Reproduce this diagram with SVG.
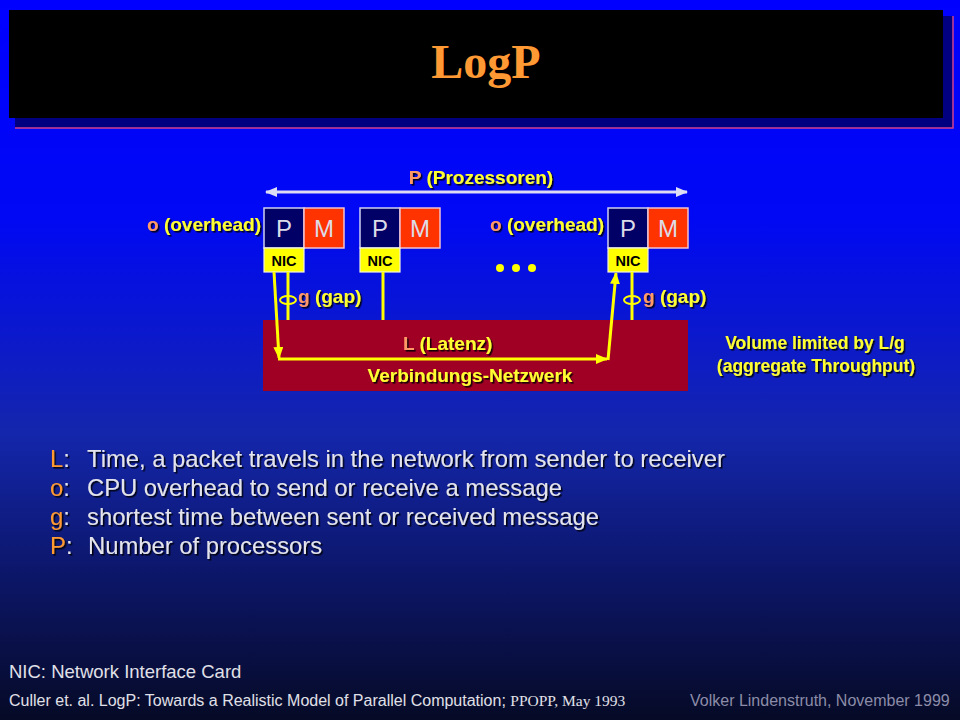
<svg xmlns="http://www.w3.org/2000/svg" width="960" height="720" viewBox="0 0 960 720">
<defs>
<linearGradient id="bg" x1="0" y1="0" x2="0" y2="1">
<stop offset="0" stop-color="#0000ff"/>
<stop offset="0.3" stop-color="#0008f4"/>
<stop offset="0.6" stop-color="#1426ac"/>
<stop offset="0.8" stop-color="#0c1668"/>
<stop offset="1" stop-color="#060a26"/>
</linearGradient>
<filter id="sh" x="-10%" y="-30%" width="120%" height="160%">
<feDropShadow dx="1.6" dy="1.6" stdDeviation="0.5" flood-color="#000000" flood-opacity="0.85"/>
</filter>
<marker id="ya" markerUnits="userSpaceOnUse" markerWidth="12" markerHeight="10" refX="11" refY="5" orient="auto">
<path d="M0,0 L12,5 L0,10 Z" fill="#ffff00"/>
</marker>
<marker id="wa" markerUnits="userSpaceOnUse" markerWidth="12" markerHeight="10" refX="11" refY="5" orient="auto-start-reverse">
<path d="M0,0 L12,5 L0,10 Z" fill="#dcdcf4"/>
</marker>
</defs>
<style>
.lbl{font-family:"Liberation Sans",Arial,sans-serif;font-weight:bold;font-size:19px;fill:#ffff33}
.vol{font-size:17.5px}
.pre{fill:#ff9966}
.pbox{fill:#000066;stroke:#d0d0f0;stroke-width:1.5}
.mbox{fill:#ff3300;stroke:#f0c0d0;stroke-width:1.5}
.nbox{fill:#ffff00;stroke:#f0f0e0;stroke-width:1.2}
.big{font-family:"Liberation Sans",Arial,sans-serif;font-size:24px;fill:#dcdce8;text-anchor:middle}
.nic{font-family:"Liberation Sans",Arial,sans-serif;font-weight:bold;font-size:14.5px;fill:#000000;text-anchor:middle}
.yl{stroke:#ffff00;stroke-width:3;fill:none}
.list{font-family:"Liberation Sans",Arial,sans-serif;font-size:23.8px;fill:#e4e4ec}
.or{fill:#ff9933}
.foot{font-family:"Liberation Sans",Arial,sans-serif;fill:#e0e0e8}
</style>
<rect x="0" y="0" width="960" height="720" fill="url(#bg)"/>
<g id="title">
<rect x="15" y="16" width="938" height="112" fill="#000080"/>
<path d="M15,128 L953,128 L953,16" fill="none" stroke="#d04090" stroke-width="1.5"/>
<rect x="9" y="10" width="934" height="108" fill="#000000"/>
<text x="486" y="78" text-anchor="middle" font-family="Liberation Serif,'Times New Roman',serif" font-weight="bold" font-size="48" fill="#ff9933">LogP</text>
</g>
<g id="network">
<rect x="263" y="320" width="425" height="71" fill="#a00024"/>
<text class="lbl" x="403" y="350" filter="url(#sh)"><tspan class="pre">L</tspan> (Latenz)</text>
<text class="lbl" x="470" y="382" text-anchor="middle" filter="url(#sh)">Verbindungs-Netzwerk</text>
</g>
<g id="node1">
<rect class="pbox" x="264" y="208" width="40" height="40"/>
<rect class="mbox" x="304" y="208" width="40" height="40"/>
<rect class="nbox" x="264" y="248" width="40" height="24"/>
<text class="big" x="284" y="237">P</text>
<text class="big" x="324" y="237">M</text>
<text class="nic" x="284" y="266">NIC</text>
</g>
<g id="node2">
<rect class="pbox" x="360" y="208" width="40" height="40"/>
<rect class="mbox" x="400" y="208" width="40" height="40"/>
<rect class="nbox" x="360" y="248" width="40" height="24"/>
<text class="big" x="380" y="237">P</text>
<text class="big" x="420" y="237">M</text>
<text class="nic" x="380" y="266">NIC</text>
</g>
<g id="node3">
<rect class="pbox" x="608" y="208" width="40" height="40"/>
<rect class="mbox" x="648" y="208" width="40" height="40"/>
<rect class="nbox" x="608" y="248" width="40" height="24"/>
<text class="big" x="628" y="237">P</text>
<text class="big" x="668" y="237">M</text>
<text class="nic" x="628" y="266">NIC</text>
</g>
<g id="dots" fill="#ffff00">
<circle cx="500" cy="268" r="4"/>
<circle cx="516" cy="268" r="4"/>
<circle cx="532" cy="268" r="4"/>
</g>
<g id="connectors">
<line x1="266" y1="192" x2="687" y2="192" stroke="#dcdcf4" stroke-width="3" marker-start="url(#wa)" marker-end="url(#wa)"/>
<line class="yl" x1="288" y1="272" x2="288" y2="320"/>
<line class="yl" x1="383" y1="272" x2="383" y2="320"/>
<line class="yl" x1="632" y1="272" x2="632" y2="320"/>
<line class="yl" x1="274" y1="272" x2="279" y2="358" marker-end="url(#ya)"/>
<line class="yl" x1="278" y1="359" x2="607" y2="359" marker-end="url(#ya)"/>
<line class="yl" x1="608" y1="360" x2="616" y2="273" marker-end="url(#ya)"/>
<ellipse cx="288" cy="300" rx="8" ry="4" fill="none" stroke="#ffff00" stroke-width="2"/>
<ellipse cx="632" cy="300" rx="8" ry="4" fill="none" stroke="#ffff00" stroke-width="2"/>
</g>
<g id="labels" filter="url(#sh)">
<text class="lbl" x="481" y="184" text-anchor="middle"><tspan class="pre">P</tspan> (Prozessoren)</text>
<text class="lbl" x="147" y="231"><tspan class="pre">o</tspan> (overhead)</text>
<text class="lbl" x="490" y="231"><tspan class="pre">o</tspan> (overhead)</text>
<text class="lbl" x="298" y="303"><tspan class="pre">g</tspan> (gap)</text>
<text class="lbl" x="643" y="303"><tspan class="pre">g</tspan> (gap)</text>
<text class="lbl vol" x="815" y="349" text-anchor="middle">Volume limited by L/g</text>
<text class="lbl vol" x="816" y="372" text-anchor="middle">(aggregate Throughput)</text>
</g>
<g id="legend" filter="url(#sh)">
<text class="list" y="467"><tspan class="or" x="50">L</tspan>:<tspan x="87">Time, a packet travels in the network from sender to receiver</tspan></text>
<text class="list" y="496"><tspan class="or" x="50">o</tspan>:<tspan x="87">CPU overhead to send or receive a message</tspan></text>
<text class="list" y="525"><tspan class="or" x="50">g</tspan>:<tspan x="87">shortest time between sent or received message</tspan></text>
<text class="list" y="554"><tspan class="or" x="50">P</tspan>:<tspan x="88">Number of processors</tspan></text>
</g>
<g id="footer">
<text class="foot" x="9" y="678" font-size="18.5">NIC: Network Interface Card</text>
<text class="foot" x="9" y="706" font-size="16">Culler et. al. LogP: Towards a Realistic Model of Parallel Computation; <tspan font-family="Liberation Serif,'Times New Roman',serif" font-size="15.5">PPOPP, May 1993</tspan></text>
<text x="690" y="706" font-family="Liberation Sans,Arial,sans-serif" font-size="16" fill="#8c8ca8">Volker Lindenstruth, November 1999</text>
</g>
</svg>
